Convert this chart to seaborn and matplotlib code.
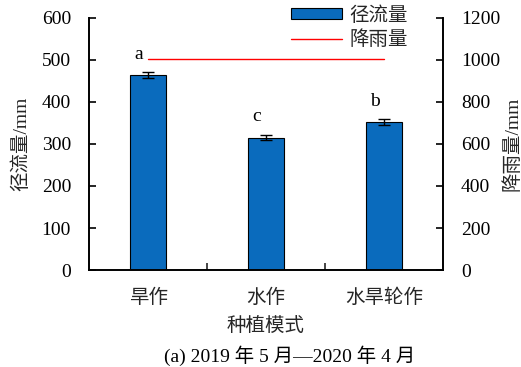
import matplotlib
matplotlib.use("Agg")
import matplotlib.pyplot as plt
import seaborn as sns
import pandas as pd
from matplotlib.lines import Line2D
from matplotlib.patches import Patch

# 种植模式与径流量、降雨量数据
modes = ["旱作", "水作", "水旱轮作"]
runoff = [463, 315, 352]
runoff_err = [7, 7, 6]
rainfall = [1002, 1002, 1002]
letters = ["a", "c", "b"]

sns.set_theme(style="white")
plt.rcParams["font.family"] = ["Liberation Serif", "Noto Sans CJK SC"]
plt.rcParams["axes.unicode_minus"] = False

FS = 14
bar_color = "#0A6BBD"

fig = plt.figure(figsize=(5.21, 3.67), dpi=100)
ax = fig.add_axes([0.171, 0.264, 0.679, 0.688])

df = pd.DataFrame({"mode": modes, "runoff": runoff})
sns.barplot(data=df, x="mode", y="runoff", ax=ax, color=bar_color,
            width=0.31, edgecolor="black", linewidth=0.8, saturation=1)
ax.errorbar(range(len(modes)), runoff, yerr=runoff_err, fmt="none",
            ecolor="black", elinewidth=1.0, capsize=4.3, capthick=1.0)

for i, (v, e, t) in enumerate(zip(runoff, runoff_err, letters)):
    ax.annotate(t, xy=(i - 0.08, v + e), xytext=(0, 13), textcoords="offset points",
                ha="center", va="center", fontsize=FS, color="black")

ax.set_ylim(0, 600)
ax.set_xlim(-0.5, 2.5)
ax.set_yticks(range(0, 601, 100))
ax.set_xlabel("种植模式", fontsize=FS, labelpad=8)
ax.set_ylabel("径流量/mm", fontsize=FS, labelpad=8)
ax.tick_params(axis="y", direction="in", length=5, width=1.2, pad=13,
               labelsize=FS, colors="black")
ax.tick_params(axis="x", which="major", length=0, pad=13.5, labelsize=FS)
ax.set_xticks([0.5, 1.5], minor=True)
ax.tick_params(axis="x", which="minor", direction="in", length=5, width=1.2,
               bottom=True)

ax2 = ax.twinx()
sns.lineplot(x=list(range(len(modes))), y=rainfall, ax=ax2, color="#FF0000",
             linewidth=1.0)
ax2.set_ylim(0, 1200)
ax2.set_yticks(range(0, 1201, 200))
ax2.set_ylabel("降雨量/mm", fontsize=FS, labelpad=2)
ax2.tick_params(axis="y", direction="in", length=5, width=1.2, pad=13,
                labelsize=FS, colors="black")

for a in (ax, ax2):
    for s in a.spines.values():
        s.set_visible(False)
    a.grid(False)
ax.spines["left"].set_visible(True)
ax.spines["bottom"].set_visible(True)
ax2.spines["right"].set_visible(True)
for a, side in ((ax, "left"), (ax, "bottom"), (ax2, "right")):
    a.spines[side].set_color("black")
    a.spines[side].set_linewidth(1.4)

handles = [Patch(facecolor=bar_color, edgecolor="black", linewidth=0.8),
           Line2D([0], [0], color="#FF0000", linewidth=1.0)]
fig.legend(handles, ["径流量", "降雨量"], loc="upper right",
           bbox_to_anchor=(408 / 521, 1 - 6 / 367), frameon=False,
           fontsize=FS, handlelength=2.63, handleheight=0.52,
           handletextpad=0.38, labelspacing=0.32, borderpad=0,
           borderaxespad=0)

fig.text(290 / 521, 1 - 356 / 367, "(a) 2019 年 5 月—2020 年 4 月",
         ha="center", va="center", fontsize=FS, color="black")

fig.savefig("out.png", dpi=100)
